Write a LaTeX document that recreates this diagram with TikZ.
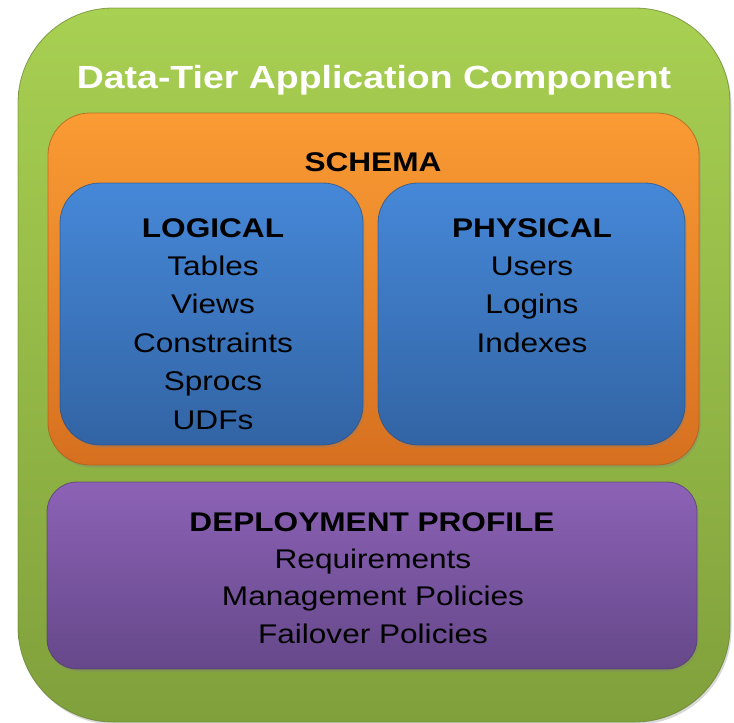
\documentclass[tikz,border=0pt]{standalone}
\usepackage{fontspec}
\setmainfont[FakeStretch=1.17]{Liberation Sans}
\usetikzlibrary{shadows}
\definecolor{gtop}{RGB}{168,208,82}
\definecolor{gbot}{RGB}{128,160,60}
\definecolor{otop}{RGB}{250,155,52}
\definecolor{obot}{RGB}{214,112,32}
\definecolor{btop}{RGB}{70,136,216}
\definecolor{bbot}{RGB}{50,100,164}
\definecolor{ptop}{RGB}{140,98,182}
\definecolor{pbot}{RGB}{102,72,138}
\tikzset{
  panel/.style={draw=#1!80!black, draw opacity=0.7, line width=0.8pt,
     drop shadow={shadow xshift=1.5pt, shadow yshift=-2.5pt, opacity=0.3}},
  titletext/.style={anchor=base, inner sep=0pt, text=white, font=\fontsize{32}{38}\selectfont\bfseries},
  headtext/.style={anchor=base, inner sep=0pt, text=black, font=\fontsize{27}{38}\selectfont\bfseries},
  itemtext/.style={anchor=base, inner sep=0pt, text=black, font=\fontsize{27}{38}\selectfont}
}
\begin{document}
\begin{tikzpicture}[x=1pt,y=-1pt]
\useasboundingbox (0,0) rectangle (734,723);
% outer green
\path[panel=gbot, rounded corners=95pt, top color=gtop, bottom color=gbot]
  (18,8) rectangle (730,722);
% schema orange
\path[panel=obot, rounded corners=42pt, top color=otop, bottom color=obot]
  (48,113) rectangle (699,465);
% logical blue
\path[panel=bbot, rounded corners=40pt, top color=btop, bottom color=bbot]
  (60,183) rectangle (363,445);
% physical blue
\path[panel=bbot, rounded corners=40pt, top color=btop, bottom color=bbot]
  (378,183) rectangle (685,445);
% deployment purple
\path[panel=pbot, rounded corners=30pt, top color=ptop, bottom color=pbot]
  (47,482) rectangle (697,669);

\node[titletext] (title) at (374,88) {Data-Tier Application Component};
\node[headtext] (schema) at (373,171) {SCHEMA};

\node[headtext] (logical) at (213,237) {LOGICAL};
\node[itemtext] (tables) at (213,275) {Tables};
\node[itemtext] (views) at (213,313.5) {Views};
\node[itemtext] (constraints) at (213,352) {Constraints};
\node[itemtext] (sprocs) at (213,390.5) {Sprocs};
\node[itemtext] (udfs) at (213,429) {UDFs};

\node[headtext] (physical) at (532,237) {PHYSICAL};
\node[itemtext] (users) at (532,275) {Users};
\node[itemtext] (logins) at (532,313.5) {Logins};
\node[itemtext] (indexes) at (532,352) {Indexes};

\node[headtext] (deploy) at (372,531) {DEPLOYMENT PROFILE};
\node[itemtext] (req) at (373,568) {Requirements};
\node[itemtext] (mgmt) at (373,605) {Management Policies};
\node[itemtext] (fail) at (373,643) {Failover Policies};
\end{tikzpicture}
\end{document}
